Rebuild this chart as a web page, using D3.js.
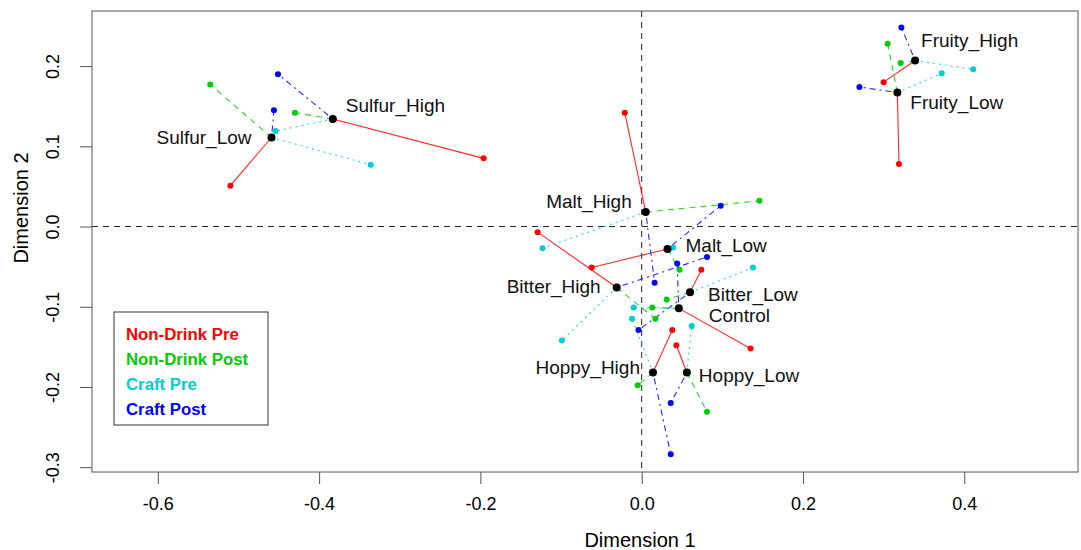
<!DOCTYPE html>
<html>
<head>
<meta charset="utf-8">
<script src="https://cdnjs.cloudflare.com/ajax/libs/d3/7.8.5/d3.min.js"></script>
<style>
  body { margin: 0; background: #fff; }
  svg { font-family: "Liberation Sans", Arial, sans-serif; }
  .axis text { font-size: 18px; fill: #000; }
  .axis line { stroke: #555; }
</style>
</head>
<body>
<svg width="1081" height="550"></svg>
<script>
// products (centroids) in the order used by every array below
var samples = ["Sulfur_High", "Sulfur_Low", "Fruity_High", "Fruity_Low", "Malt_High", "Malt_Low",
               "Bitter_High", "Bitter_Low", "Control", "Hoppy_High", "Hoppy_Low"];
var centroidX = [-0.383, -0.459, 0.339, 0.317, 0.005, 0.032, -0.031, 0.060, 0.046, 0.014, 0.056];
var centroidY = [0.134, 0.111, 0.207, 0.167, 0.018, -0.028, -0.076, -0.082, -0.102, -0.182, -0.182];

// partial points per group
var nonDrinkPreX = [-0.196, -0.510, 0.300, 0.319, -0.021, -0.062, -0.129, 0.074, 0.135, 0.038, 0.043];
var nonDrinkPreY = [0.085, 0.051, 0.180, 0.078, 0.142, -0.051, -0.007, -0.054, -0.152, -0.129, -0.148];
var nonDrinkPostX = [-0.430, -0.535, 0.321, 0.305, 0.146, 0.047, 0.017, 0.031, 0.013, -0.005, 0.081];
var nonDrinkPostY = [0.142, 0.177, 0.204, 0.228, 0.032, -0.054, -0.115, -0.091, -0.101, -0.198, -0.231];
var craftPreX = [-0.454, -0.336, 0.411, 0.372, -0.123, 0.039, -0.099, 0.138, -0.010, -0.012, 0.062];
var craftPreY = [0.119, 0.077, 0.196, 0.191, -0.027, -0.026, -0.142, -0.051, -0.101, -0.115, -0.124];
var craftPostX = [-0.451, -0.456, 0.322, 0.270, 0.016, 0.098, 0.081, -0.004, 0.044, 0.036, 0.036];
var craftPostY = [0.190, 0.145, 0.248, 0.174, -0.070, 0.026, -0.038, -0.129, -0.046, -0.284, -0.220];

var groupNames = ["Non-Drink Pre", "Non-Drink Post", "Craft Pre", "Craft Post"];
var xTicks = [-0.6, -0.4, -0.2, 0.0, 0.2, 0.4];
var yTicks = [-0.3, -0.2, -0.1, 0.0, 0.1, 0.2];

// styles for each group (R: lty 1..4)
var groupColor = ["#ff0000", "#00cd00", "#00cdcd", "#0000ff"];
var groupDash = [null, "6,5", "2,4", "2,4,6,4"];

// label placement next to each centroid: [dx, dy, anchor]
var labelOffset = [[13, -14, "start"], [-20, 0, "end"], [6, -20, "start"], [13, 10, "start"],
                   [-14, -11, "end"], [18, -4, "start"], [-16, -1, "end"], [18, 2, "start"],
                   [30, 7, "start"], [-13, -5, "end"], [12, 3, "start"]];

var svg = d3.select("svg"),
    margin = { top: 11, left: 92, right: 3, bottom: 78 },
    width = +svg.attr("width") - margin.left - margin.right,
    height = +svg.attr("height") - margin.top - margin.bottom;

var x = d3.scaleLinear().domain([-0.6816, 0.541]).range([0, width]),
    y = d3.scaleLinear().domain([-0.306, 0.2687]).range([height, 0]);

var g = svg.append("g")
    .attr("transform", "translate(" + margin.left + "," + margin.top + ")");

var groups = [
  { xs: nonDrinkPreX, ys: nonDrinkPreY },
  { xs: nonDrinkPostX, ys: nonDrinkPostY },
  { xs: craftPreX, ys: craftPreY },
  { xs: craftPostX, ys: craftPostY }
];

// reference lines through the origin
g.append("line").attr("x1", 0).attr("x2", width).attr("y1", y(0)).attr("y2", y(0))
    .attr("stroke", "#222").attr("stroke-dasharray", "6,5");
g.append("line").attr("x1", x(0)).attr("x2", x(0)).attr("y1", 0).attr("y2", height)
    .attr("stroke", "#222").attr("stroke-dasharray", "6,5");

// lines from centroid to each partial point
groups.forEach(function (grp, k) {
  g.selectAll(".seg" + k)
    .data(samples)
    .enter().append("line")
    .attr("x1", function (d, i) { return x(centroidX[i]); })
    .attr("y1", function (d, i) { return y(centroidY[i]); })
    .attr("x2", function (d, i) { return x(grp.xs[i]); })
    .attr("y2", function (d, i) { return y(grp.ys[i]); })
    .attr("stroke", groupColor[k])
    .attr("stroke-width", 1.1)
    .attr("stroke-opacity", 0.85)
    .attr("stroke-dasharray", groupDash[k]);
});

groups.forEach(function (grp, k) {
  g.selectAll(".pt" + k)
    .data(samples)
    .enter().append("circle")
    .attr("cx", function (d, i) { return x(grp.xs[i]); })
    .attr("cy", function (d, i) { return y(grp.ys[i]); })
    .attr("r", 3)
    .attr("fill", groupColor[k]);
});

// centroids
g.selectAll(".centroid")
    .data(samples)
    .enter().append("circle")
    .attr("cx", function (d, i) { return x(centroidX[i]); })
    .attr("cy", function (d, i) { return y(centroidY[i]); })
    .attr("r", 4)
    .attr("fill", "#000");

g.selectAll(".label")
    .data(samples)
    .enter().append("text")
    .attr("x", function (d, i) { return x(centroidX[i]) + labelOffset[i][0]; })
    .attr("y", function (d, i) { return y(centroidY[i]) + labelOffset[i][1]; })
    .attr("dy", "0.35em")
    .attr("text-anchor", function (d, i) { return labelOffset[i][2]; })
    .style("font-size", "19px")
    .attr("fill", "#111")
    .text(function (d) { return d; });

// box
g.append("rect").attr("width", width).attr("height", height)
    .attr("fill", "none").attr("stroke", "#555");

// axes
var xAxis = g.append("g")
    .attr("class", "axis")
    .attr("transform", "translate(0," + height + ")")
    .call(d3.axisBottom(x).tickValues(xTicks).tickSize(12).tickPadding(13)
      .tickFormat(function (d) { return d.toFixed(1); }));
xAxis.select(".domain").remove();

var yAxis = g.append("g")
    .attr("class", "axis")
    .call(d3.axisLeft(y).tickValues(yTicks).tickSize(12)
      .tickFormat(function (d) { return d.toFixed(1); }));
yAxis.select(".domain").remove();
yAxis.selectAll("text")
    .attr("transform", "rotate(-90)")
    .attr("x", 0)
    .attr("y", -33)
    .attr("dy", 0)
    .attr("text-anchor", "middle");

svg.append("text")
    .attr("x", 640).attr("y", 547)
    .attr("text-anchor", "middle")
    .style("font-size", "20px")
    .text("Dimension 1");

svg.append("text")
    .attr("transform", "translate(28,208) rotate(-90)")
    .attr("text-anchor", "middle")
    .style("font-size", "20px")
    .text("Dimension 2");

// legend
var legend = svg.append("g").attr("transform", "translate(114,312)");
legend.append("rect").attr("width", 154).attr("height", 113)
    .attr("fill", "#fff").attr("stroke", "#333");
legend.selectAll("text")
    .data(groupNames)
    .enter().append("text")
    .attr("x", 12)
    .attr("y", function (d, i) { return 22 + i * 25; })
    .attr("dy", "0.35em")
    .style("font-size", "16.8px")
    .style("font-weight", "bold")
    .attr("fill", function (d, i) { return groupColor[i]; })
    .text(function (d) { return d; });
</script>
</body>
</html>
